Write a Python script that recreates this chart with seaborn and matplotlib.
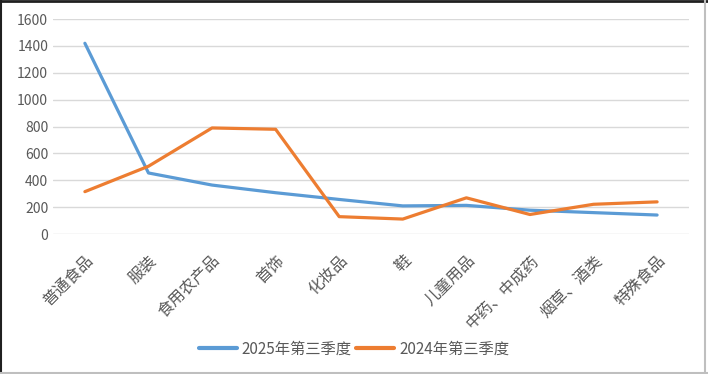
import pandas as pd
import matplotlib.pyplot as plt
import seaborn as sns
from matplotlib.lines import Line2D

# 数据
categories = ['普通食品', '服装', '食用农产品', '首饰', '化妆品', '鞋',
              '儿童用品', '中药、中成药', '烟草、酒类', '特殊食品']
q3_2025 = [1420, 455, 365, 308, 258, 210, 214, 178, 160, 142]
q3_2024 = [316, 505, 790, 780, 130, 112, 270, 146, 222, 240]
series_names = ['2025年第三季度', '2024年第三季度']
yticks = [0, 200, 400, 600, 800, 1000, 1200, 1400, 1600]

df = pd.DataFrame({'类别': categories * 2,
                   '值': q3_2025 + q3_2024,
                   '系列': [series_names[0]] * 10 + [series_names[1]] * 10})

sns.set_style('white')
plt.rcParams['font.family'] = ['Noto Sans CJK SC', 'DejaVu Sans']

fig = plt.figure(figsize=(7.08, 3.74), dpi=100)
ax = fig.add_axes([0.075, 0.374, 0.898, 0.575])

sns.lineplot(data=df, x='类别', y='值', hue='系列', sort=False,
             palette=['#5B9BD5', '#ED7D31'], linewidth=2.3, ax=ax)

ax.set_ylim(0, 1600)
ax.set_yticks(yticks)
ax.set_xlim(-0.5, len(categories) - 0.5)
ax.yaxis.grid(True, color='#D9D9D9', linewidth=1)
ax.set_axisbelow(True)
for s in ax.spines.values():
    s.set_visible(False)
ax.set_xlabel('')
ax.set_ylabel('')
ax.tick_params(axis='both', length=0, colors='#595959', labelsize=10)
ax.set_xticks(range(len(categories)))
ax.set_xticklabels(categories, rotation=45, ha='right', rotation_mode='anchor',
                   fontsize=11.5, color='#595959')
ax.tick_params(axis='x', pad=13)

handles, labels = ax.get_legend_handles_labels()
leg = fig.legend(handles, labels, loc='center', bbox_to_anchor=(0.5, 0.067), ncol=2,
                 frameon=False, fontsize=11, handlelength=2.5, columnspacing=0.3,
                 handletextpad=0.3, labelcolor='#595959')
for h in leg.legend_handles:
    h.set_linewidth(3)
ax.get_legend().remove()

# 边框：上、左深色，右、下浅灰
fig.add_artist(Line2D([0, 1], [0.997, 0.997], transform=fig.transFigure, color='#202020', lw=2))
fig.add_artist(Line2D([0.001, 0.001], [0, 1], transform=fig.transFigure, color='#202020', lw=1.5))
fig.add_artist(Line2D([0.996, 0.996], [0, 1], transform=fig.transFigure, color='#BFBFBF', lw=1.5))
fig.add_artist(Line2D([0, 1], [0.004, 0.004], transform=fig.transFigure, color='#BFBFBF', lw=1.5))

plt.savefig('out.png', dpi=100)
